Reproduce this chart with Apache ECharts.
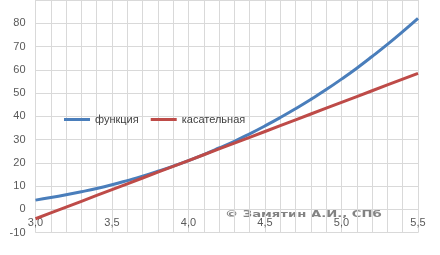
<!DOCTYPE html>
<html>
<head>
<meta charset="utf-8">
<script src="https://cdn.jsdelivr.net/npm/echarts@6/dist/echarts.min.js"></script>
<style>
  html, body { margin: 0; padding: 0; background: #ffffff; }
  #chart { width: 440px; height: 255px; }
</style>
</head>
<body>
<div id="chart"></div>
<script>
// Data
var xValues = [3.0, 3.1, 3.2, 3.3, 3.4, 3.5, 3.6, 3.7, 3.8, 3.9, 4.0, 4.1, 4.2, 4.3, 4.4, 4.5, 4.6, 4.7, 4.8, 4.9, 5.0, 5.1, 5.2, 5.3, 5.4, 5.5];
var funcValues = [4.0, 5.1, 6.3, 7.6, 9.0, 10.6, 12.4, 14.3, 16.4, 18.6, 21.0, 23.6, 26.4, 29.3, 32.5, 35.9, 39.5, 43.3, 47.3, 51.5, 56.0, 60.7, 65.7, 70.9, 76.4, 82.1];
var tangentValues = [-4.0, -1.5, 1.0, 3.5, 6.0, 8.5, 11.0, 13.5, 16.0, 18.5, 21.0, 23.5, 26.0, 28.5, 31.0, 33.5, 36.0, 38.5, 41.0, 43.5, 46.0, 48.5, 51.0, 53.5, 56.0, 58.5];
var seriesNames = ['функция', 'касательная'];
var watermark = '© Замятин А.И., СПб';

function pairs(xs, ys) {
  return xs.map(function (x, i) { return [x, ys[i]]; });
}

var chart = echarts.init(document.getElementById('chart'), null, { renderer: 'canvas' });
var labelFont = 'Liberation Sans';
var pxPerTen = 24.44;
chart.setOption({
  animation: false,
  backgroundColor: '#ffffff',
  grid: { left: 35.5, right: 22, top: -11.7, bottom: 22.3 },
  legend: {
    data: [
      { name: seriesNames[0], icon: 'rect' },
      { name: seriesNames[1], icon: 'rect' }
    ],
    left: 64, top: 114, padding: 0,
    itemWidth: 26, itemHeight: 3, itemGap: 12,
    textStyle: { color: '#404040', fontSize: 11, fontFamily: labelFont }
  },
  xAxis: {
    type: 'value', min: 3, max: 5.5, interval: 0.1,
    offset: -pxPerTen,
    axisLine: { show: false, onZero: false },
    axisTick: { show: false },
    splitLine: { show: true, lineStyle: { color: '#d9d9d9', width: 1 } },
    axisLabel: {
      margin: 9, color: '#595959', fontSize: 11, fontFamily: labelFont,
      showMinLabel: true, showMaxLabel: true,
      formatter: function (v) {
        if (Math.abs(v * 2 - Math.round(v * 2)) < 1e-6) return v.toFixed(1).replace('.', ',');
        return '';
      }
    }
  },
  yAxis: {
    type: 'value', min: -10, max: 90, interval: 10,
    axisLine: { show: false },
    axisTick: { show: false },
    splitLine: { show: true, lineStyle: { color: '#d9d9d9', width: 1 } },
    axisLabel: {
      margin: 10, color: '#595959', fontSize: 11, fontFamily: labelFont,
      formatter: function (v) { return v > 80 ? '' : String(v); }
    }
  },
  graphic: [{
    type: 'text', x: 225, y: 211, scaleX: 1.1, scaleY: 0.7, silent: true,
    style: { text: watermark, font: 'bold 12px "DejaVu Sans"', fill: '#5a5a5a', opacity: 0.75 }
  }],
  series: [
    {
      name: seriesNames[0], type: 'line', data: pairs(xValues, funcValues),
      showSymbol: false, smooth: true, color: '#4a7ebb',
      lineStyle: { width: 3, color: '#4a7ebb' }
    },
    {
      name: seriesNames[1], type: 'line', data: pairs(xValues, tangentValues),
      showSymbol: false, smooth: false, color: '#be4b48',
      lineStyle: { width: 3, color: '#be4b48' }
    }
  ]
});
</script>
</body>
</html>
